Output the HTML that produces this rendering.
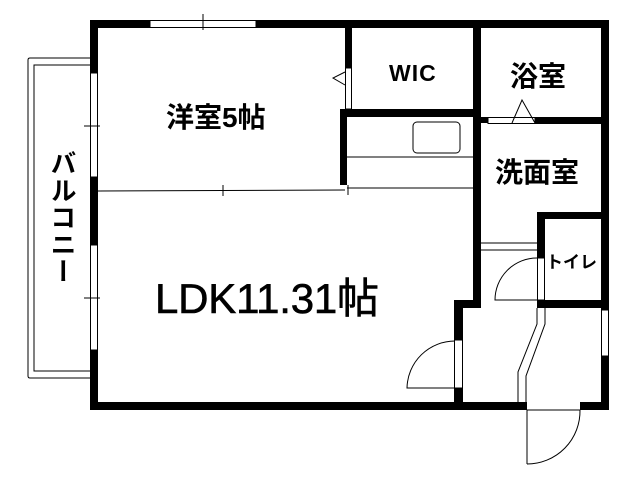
<!DOCTYPE html>
<html><head><meta charset="utf-8"><style>html,body{margin:0;padding:0;background:#fff}svg{display:block}</style></head>
<body>
<svg width="640" height="480" viewBox="0 0 640 480" xmlns="http://www.w3.org/2000/svg">
<g fill="#000">
<rect x="90" y="20" width="60" height="8"/>
<rect x="256" y="20" width="353" height="8"/>
<rect x="90" y="20" width="8" height="53"/>
<rect x="90" y="177" width="8" height="68"/>
<rect x="90" y="350" width="8" height="60"/>
<rect x="601" y="20" width="8" height="290"/>
<rect x="601" y="356" width="8" height="54"/>
<rect x="90" y="402" width="437" height="8"/>
<rect x="580" y="402" width="29" height="8"/>
<rect x="345" y="20" width="7" height="48"/>
<rect x="340" y="109" width="7" height="76"/>
<rect x="340" y="109" width="141" height="8"/>
<rect x="473" y="20" width="8" height="288"/>
<rect x="454" y="300" width="9" height="40"/>
<rect x="454" y="300" width="27" height="8"/>
<rect x="454" y="388" width="9" height="22"/>
<rect x="473" y="117" width="15" height="6"/>
<rect x="535" y="117" width="70" height="7"/>
<rect x="537" y="212" width="68" height="7"/>
<rect x="537" y="212" width="8" height="46"/>
<rect x="537" y="300" width="68" height="8"/>
</g>
<g fill="none" stroke="#000" stroke-width="1">
<rect x="150" y="20.5" width="106" height="7"/>
<line x1="203" y1="14" x2="203" y2="30"/>
<rect x="90.5" y="73" width="7" height="104"/>
<line x1="84" y1="126" x2="100" y2="126"/>
<rect x="90.5" y="245" width="7" height="105"/>
<line x1="84" y1="298" x2="100" y2="298"/>
<rect x="601.5" y="310" width="7" height="46"/>
<path d="M90 58 H30 Q28 58 28 60 V376 Q28 378 30 378 H90"/>
<path d="M90 65 H34 V371 H90"/>
<line x1="98" y1="191" x2="345" y2="190"/>
<line x1="223" y1="185" x2="223" y2="196"/>
<line x1="347" y1="188" x2="473" y2="188"/>
<line x1="348" y1="185" x2="348" y2="195"/>
<rect x="345.5" y="68" width="6" height="41"/>
<polyline points="345,72 333,78 345,85"/>
<line x1="347" y1="157" x2="473" y2="157"/>
<rect x="413" y="122" width="47" height="31" rx="4"/>
<rect x="488" y="117.5" width="47" height="6"/>
<polyline points="512,123 522,100 535,123"/>
<line x1="481" y1="243" x2="537" y2="243"/>
<line x1="481" y1="250" x2="537" y2="250"/>
<rect x="537.5" y="258" width="7" height="42"/>
<path d="M537 258 A42 42 0 0 0 495 300 H537"/>
<path d="M537 308 V324 L518 372 V402"/>
<path d="M545 308 V324 L526 376 V402"/>
<rect x="454.5" y="340" width="8" height="48"/>
<path d="M455 341 A48 48 0 0 0 407 388 H455"/>
<line x1="527" y1="410" x2="527" y2="464"/>
<line x1="527" y1="410" x2="580" y2="410"/>
<path d="M527 464 A53 53 0 0 0 580 410"/>
</g>
<g font-family="Liberation Sans, Noto Sans CJK JP, sans-serif" fill="#000">
<text x="166" y="127" font-size="28" font-weight="bold">洋室5帖</text>
<text x="389" y="81" font-size="23" font-weight="bold" letter-spacing="1">WIC</text>
<text x="510" y="86" font-size="28" font-weight="bold">浴室</text>
<text x="495" y="182" font-size="28" font-weight="bold">洗面室</text>
<text x="546" y="268" font-size="17" font-weight="bold">トイレ</text>
<text x="155" y="313" font-size="42" textLength="224" stroke="#000" stroke-width="0.6">LDK11.31帖</text>
<text font-size="26" font-weight="bold" writing-mode="tb" x="62" y="150" letter-spacing="1">バルコニー</text>
</g>
</svg>
</body></html>
